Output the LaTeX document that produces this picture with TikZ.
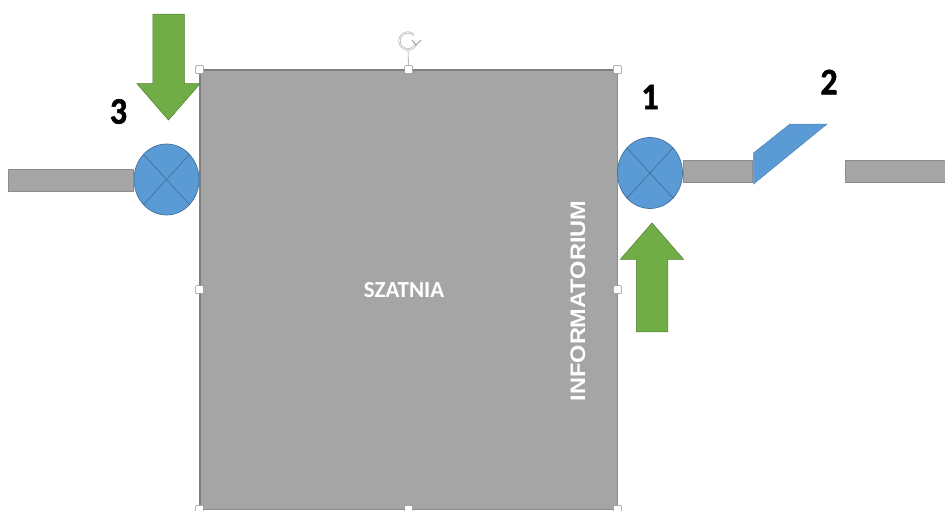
\documentclass[tikz,border=0pt]{standalone}
\usepackage{fontspec}
\setmainfont{Carlito}
\newfontfamily\arialfont{Liberation Sans}
\newfontfamily\tagfont[BoldFeatures={FakeBold=1.5}]{Carlito}
\usetikzlibrary{positioning,shapes.geometric,shapes.arrows}
\definecolor{wallgray}{HTML}{A5A5A5}
\definecolor{wallline}{HTML}{7F7F7F}
\definecolor{valveblue}{HTML}{5B9BD5}
\definecolor{valveline}{HTML}{41719C}
\definecolor{arrowgreen}{HTML}{70AD47}
\definecolor{arrowline}{HTML}{507E32}
\tikzset{
    roombox/.style={rectangle,fill=wallgray,draw=wallgray!85!black,line width=0.8pt,inner sep=0pt,
        minimum width=417pt,minimum height=439pt},
    pipebox/.style={rectangle,fill=wallgray,draw=wallgray!85!black,line width=0.9pt,inner sep=0pt,minimum height=22pt},
    valve/.style={ellipse,fill=valveblue,draw=valveline,line width=0.7pt,inner sep=0pt,
        minimum width=65pt,minimum height=71pt},
    flowarrow/.style={single arrow,fill=arrowgreen,draw=arrowline,line width=0.5pt,inner xsep=0pt,inner ysep=15.5pt,
        minimum width=63pt,minimum height=106pt,single arrow head extend=16pt,
        single arrow tip angle=82,single arrow head indent=0pt},
    handle/.style={rectangle,fill=white,draw=black!45,line width=0.5pt,inner sep=0pt,minimum size=8pt,rounded corners=1pt},
    tag/.style={font=\tagfont\bfseries\fontsize{34}{34}\selectfont,inner sep=0pt,yscale=1.1},
    roomlabel/.style={text=white,font=\bfseries,inner sep=0pt}
}
\begin{document}
\begin{tikzpicture}[x=1pt,y=-1pt,node distance=76pt,on grid]
    \useasboundingbox (0,0) rectangle (945,511);
    % room
    \node[roombox] (room) at (408.5,289.5) {};
    \draw[wallline,line width=2pt] (room.south west) -- (room.north west) -- (room.north east);
    \node[roomlabel,font=\bfseries\fontsize{23}{23}\selectfont] (szatnia) at (404,290) {SZATNIA};
    \node[roomlabel,font=\arialfont\bfseries\fontsize{21}{22}\selectfont,rotate=90,xscale=1.12] (info) at (578,301) {INFORMATORIUM};
    % valves
    \node[valve] (v3) at (166.5,179.5) {};
    \node[valve] (v1) at (650,173) {};
    \foreach \v in {v1,v3} {
        \draw[valveline,line width=0.7pt] (\v.north west) -- (\v.south east);
        \draw[valveline,line width=0.7pt] (\v.north east) -- (\v.south west);
    }
    % pipes
    \node[pipebox,minimum width=125pt] (pipeL) at (70.5,180) {};
    \node[pipebox,minimum width=69pt] (pipeR) at (717.5,171) {};
    \node[pipebox,minimum width=102pt] (pipeF) at (896,171) {};
    % door
    \coordinate (d1) at (753.5,153);
    \coordinate (d2) at (790,124);
    \coordinate (d3) at (827,124);
    \coordinate (d4) at (753.5,184);
    \filldraw[fill=valveblue,draw=valveblue!85!black,line width=0.5pt] (d1) -- (d2) -- (d3) -- (d4) -- cycle;
    % arrows
    \node[flowarrow,rotate=270] (a3) at (168.5,58) {};
    \node[flowarrow,rotate=90,minimum height=109pt] (a1) at (652,286.5) {};
    % numbers
    \node[tag] (n3) [above left = 68pt and 48pt of v3] {3};
    \node[tag] (n1) [above = of v1] {1};
    \node[tag] (n2) at (829,82) {2};
    % handles
    \foreach \a/\n in {north west/h1,north/h2,north east/h3,west/h4,east/h5,south west/h6,south/h7,south east/h8}
        \node[handle] (\n) at (room.\a) {};
    \coordinate (rot) at (408,50);
    \draw[black!40,line width=0.6pt] (h2) -- (rot);
    \draw[black!28,line width=2.2pt] (414,35) arc[start angle=45,delta angle=290,radius=8.5pt];
    \draw[white,line width=0.7pt] (414,35) arc[start angle=45,delta angle=290,radius=8.5pt];
    \draw[black!30,line width=1.2pt] (412,40) -- (416,45) -- (421,40);
\end{tikzpicture}
\end{document}
